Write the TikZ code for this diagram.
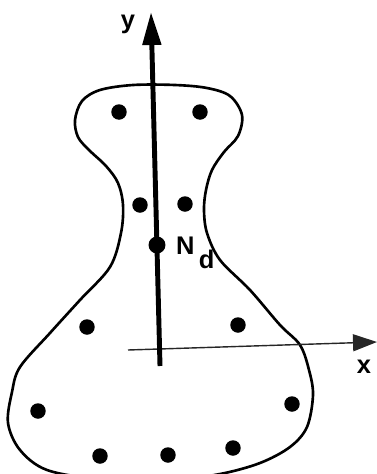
\documentclass[tikz,border=0pt]{standalone}
\usepackage{fontspec}
\setmainfont{Liberation Sans}
\usetikzlibrary{positioning, arrows.meta}

\begin{document}
\begin{tikzpicture}[
      x=0.02cm, y=-0.02cm,
      dot/.style={circle, fill=black, inner sep=0pt, minimum size=0.31cm},
      lbl/.style={inner sep=0pt, font=\fontsize{14.5}{16}\selectfont\bfseries},
      outline/.style={line width=1.5pt, line join=round},
      yaxis/.style={line width=2.8pt, -{Triangle[length=6.6mm, width=3.6mm]}},
      xaxis/.style={line width=0.8pt, draw=black!85, -{Triangle[length=4.8mm, width=3.4mm]}}
   ]
      \clip (0,0) rectangle (377,474);

      % body outline
      \draw[outline] plot[smooth cycle, tension=0.55] coordinates {
         (133,85) (175,85) (207,88) (230,96) (242,115) (238,136) (224,152)
         (212,170) (206,190) (204,210) (207,233) (220,260) (250,290)
         (280,325) (300,345) (309,370) (313,395) (307,427) (290,447)
         (260,463) (220,474) (170,480) (100,479) (47,470) (20,450)
         (8,423) (12,392) (20,367) (50,333) (80,300) (110,267) (121,233)
         (123,205) (118,183) (106,166) (89,150) (78,137) (75,120)
         (82,101) (100,90)};

      % axes
      \coordinate (ybot) at (160,366);
      \coordinate (ytop) at (151,12);
      \coordinate (xleft) at (128,350);
      \coordinate (xright) at (377,342);
      \draw[xaxis] (xleft) -- (xright);
      \draw[yaxis] (ybot) -- (ytop);

      % points
      \node (p1)  [dot] at (119,112) {};
      \node (p2)  [dot] at (200,112) {};
      \node (p3)  [dot] at (140,205) {};
      \node (p4)  [dot] at (185,204) {};
      \node (nd)  [dot, minimum size=0.34cm] at (157,245) {};
      \node (p5)  [dot] at (87,327) {};
      \node (p6)  [dot] at (238,325) {};
      \node (p7)  [dot] at (38,411) {};
      \node (p8)  [dot] at (100,456) {};
      \node (p9)  [dot] at (168,455) {};
      \node (p10) [dot] at (233,448) {};
      \node (p11) [dot] at (292,404) {};

      % labels
      \node (ylab)  [lbl] at (128,24) {y};
      \node (xlab)  [lbl] at (364,367) {x};
      \node (ndlab) [lbl, right=0.2cm of nd, yshift=-0.16cm] {N\,\raisebox{-0.28cm}{d}};
   \end{tikzpicture}
\end{document}
